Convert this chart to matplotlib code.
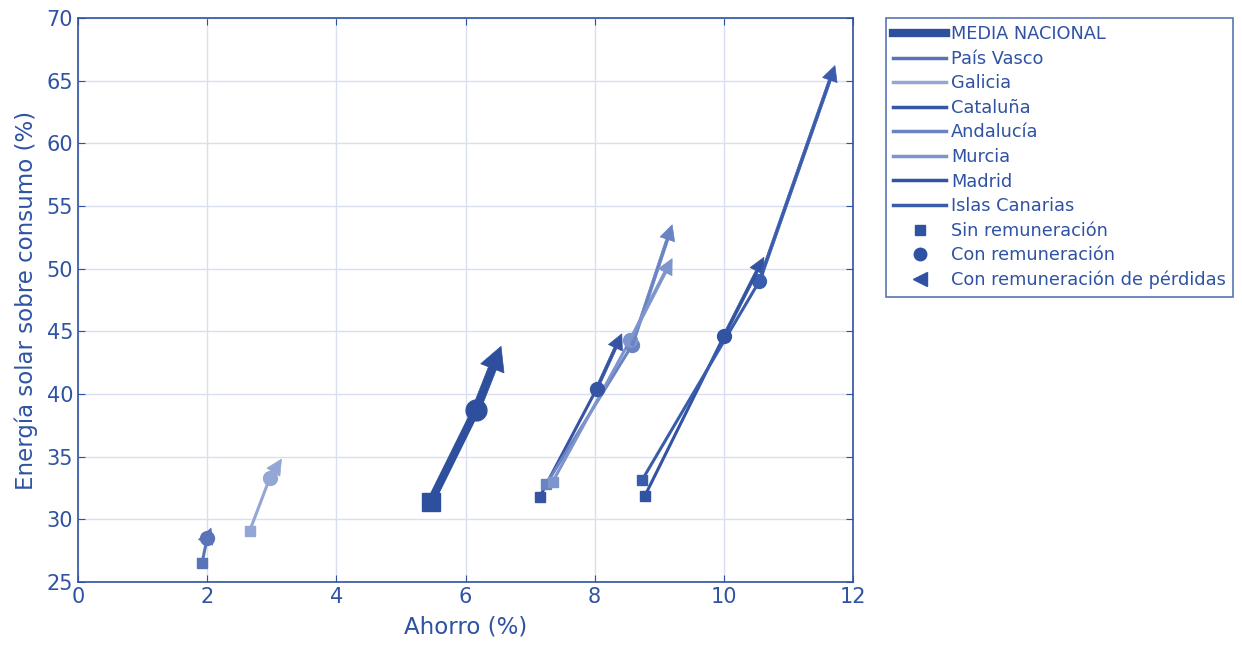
import matplotlib
matplotlib.use("Agg")
import matplotlib.pyplot as plt
from matplotlib.lines import Line2D
from matplotlib.patches import FancyArrowPatch

regions = ["MEDIA NACIONAL", "País Vasco", "Galicia", "Cataluña", "Andalucía",
           "Murcia", "Madrid", "Islas Canarias"]
# Ahorro (%) for: Sin remuneración, Con remuneración, Con remuneración de pérdidas
ahorro = {
    "MEDIA NACIONAL": [5.46, 6.16, 6.55],
    "País Vasco":     [1.92, 2.00, 2.06],
    "Galicia":        [2.66, 2.97, 3.15],
    "Cataluña":       [7.15, 8.03, 8.42],
    "Andalucía":      [7.25, 8.58, 9.20],
    "Murcia":         [7.35, 8.55, 9.20],
    "Madrid":         [8.78, 10.00, 10.62],
    "Islas Canarias": [8.73, 10.55, 11.72],
}
# Energía solar sobre consumo (%)
energia = {
    "MEDIA NACIONAL": [31.4, 38.7, 43.8],
    "País Vasco":     [26.5, 28.5, 29.3],
    "Galicia":        [29.1, 33.3, 34.8],
    "Cataluña":       [31.8, 40.4, 44.8],
    "Andalucía":      [32.8, 43.9, 53.5],
    "Murcia":         [33.0, 44.3, 50.8],
    "Madrid":         [31.9, 44.6, 50.9],
    "Islas Canarias": [33.1, 49.0, 66.2],
}
colors = {
    "MEDIA NACIONAL": "#2e4f9e",
    "País Vasco":     "#5873b8",
    "Galicia":        "#94a6d6",
    "Cataluña":       "#3554a3",
    "Andalucía":      "#6a83c2",
    "Murcia":         "#7e94cc",
    "Madrid":         "#3252a2",
    "Islas Canarias": "#3a5cac",
}
marker_labels = ["Sin remuneración", "Con remuneración", "Con remuneración de pérdidas"]
xticks = [0, 2, 4, 6, 8, 10, 12]
yticks = [25, 30, 35, 40, 45, 50, 55, 60, 65, 70]

txt = "#2f52a3"
plt.rcParams['font.family'] = ['DejaVu Sans']

fig = plt.figure(figsize=(12.42, 6.45), dpi=100)
ax = fig.add_axes([0.0628, 0.0977, 0.6240, 0.8744])

for r in regions:
    thick = r == "MEDIA NACIONAL"
    lw = 6 if thick else 2.2
    c = colors[r]
    xs, ys = ahorro[r], energia[r]
    ax.plot(xs[:2], ys[:2], color=c, lw=lw, solid_capstyle='butt', zorder=3)
    ax.plot(xs[0], ys[0], 's', color=c, ms=13 if thick else 7, zorder=4)
    ax.plot(xs[1], ys[1], 'o', color=c, ms=15 if thick else 10, zorder=4)
    ms = 30 if thick else 20
    if thick:
        style = "simple,head_length=%.3f,head_width=%.3f,tail_width=%.3f" % (
            17.0 / ms, 18.0 / ms, lw / ms)
    else:
        style = "simple,head_length=%.3f,head_width=%.3f,tail_width=%.3f" % (
            11.0 / ms, 11.0 / ms, lw / ms)
    arr = FancyArrowPatch((xs[1], ys[1]), (xs[2], ys[2]), arrowstyle=style,
                          mutation_scale=ms, color=c, lw=0.5, shrinkA=0, shrinkB=0,
                          zorder=5)
    ax.add_patch(arr)

ax.set_xlim(0, 12)
ax.set_ylim(25, 70)
ax.set_xticks(xticks)
ax.set_yticks(yticks)
ax.grid(True, color="#d9def0", lw=1)
ax.set_axisbelow(True)
ax.tick_params(direction='in', colors=txt, labelsize=15, top=True, right=True, length=5)
for s in ax.spines.values():
    s.set_color(txt)
    s.set_linewidth(1.2)
ax.set_xlabel("Ahorro (%)", color=txt, fontsize=16.5, labelpad=6)
ax.set_ylabel("Energía solar sobre consumo (%)", color=txt, fontsize=16.5, labelpad=6)

handles = []
for r in regions:
    handles.append(Line2D([], [], color=colors[r], lw=6 if r == "MEDIA NACIONAL" else 2.5, label=r))
handles.append(Line2D([], [], ls='none', marker='s', color=txt, ms=7, label=marker_labels[0]))
handles.append(Line2D([], [], ls='none', marker='o', color=txt, ms=9, label=marker_labels[1]))
handles.append(Line2D([], [], ls='none', marker='<', color=txt, ms=10, label=marker_labels[2]))
leg = fig.legend(handles=handles, loc='upper left', bbox_to_anchor=(0.7134, 0.972),
                 borderaxespad=0, fontsize=12.8, frameon=True, fancybox=False,
                 handlelength=3.0, handletextpad=0.25, labelspacing=0.37,
                 borderpad=0.4, labelcolor=txt)
leg.get_frame().set_edgecolor(txt)
leg.get_frame().set_linewidth(1.2)

fig.savefig("out.png", dpi=100)
